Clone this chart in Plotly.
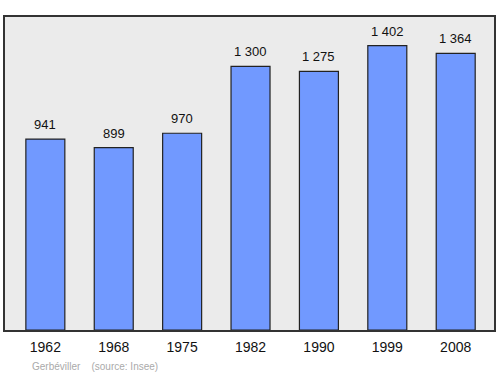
import plotly.graph_objects as go

years = ["1962", "1968", "1975", "1982", "1990", "1999", "2008"]
population = [941, 899, 970, 1300, 1275, 1402, 1364]
value_labels = ["941", "899", "970", "1 300", "1 275", "1 402", "1 364"]

idx = list(range(len(years)))

fig = go.Figure()
fig.add_trace(go.Bar(
    x=idx, y=population, width=0.57,
    marker=dict(color="#7199ff", line=dict(color="#222222", width=1.2)),
    hoverinfo="skip",
))

for i, v, lab in zip(idx, population, value_labels):
    fig.add_annotation(x=i, y=v, text=lab, showarrow=False, yanchor="bottom",
                       yshift=5, font=dict(family="Liberation Sans, Arial", size=13, color="#111111"))

fig.add_annotation(xref="paper", yref="paper", x=0.052, y=-0.092, xanchor="left", yanchor="top",
                   text="Gerbéviller&nbsp;&nbsp;&nbsp;&nbsp;(source: Insee)", showarrow=False,
                   font=dict(family="Liberation Sans, Arial", size=10, color="#aaaaaa"))

fig.update_layout(
    width=500, height=374,
    margin=dict(l=5, r=6, t=17, b=44),
    paper_bgcolor="white", plot_bgcolor="#ebebeb",
    showlegend=False,
    xaxis=dict(range=[-0.59, 6.56], showgrid=False, zeroline=False,
               tickmode="array", tickvals=idx, ticktext=years,
               ticks="outside", ticklen=3, tickcolor="rgba(0,0,0,0)",
               showline=True, linecolor="#333333", linewidth=1.5, mirror=True,
               tickfont=dict(family="Liberation Sans, Arial", size=14, color="#111111")),
    yaxis=dict(range=[0, 1543], showgrid=False, showticklabels=False, zeroline=False,
               showline=True, linecolor="#333333", linewidth=1.5, mirror=True),
)

fig.write_html("out.html")
